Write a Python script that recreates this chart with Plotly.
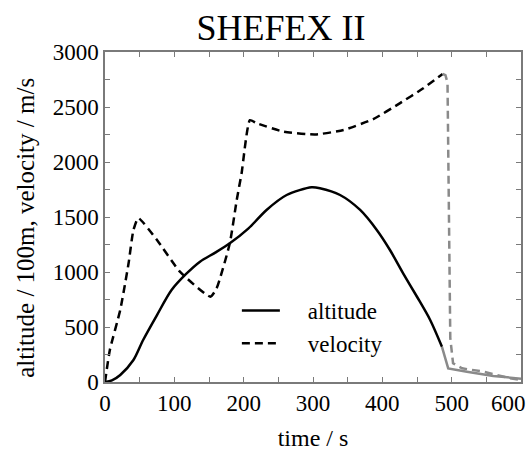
import plotly.graph_objects as go

# Altitude (in units of 100 m) - flight (black) and descent after t~486 s (gray)
alt_time = [0, 10, 22, 41, 55, 75, 96, 117, 137, 159, 180, 207, 233, 262, 298, 310, 339, 368, 392, 411, 430, 450, 469, 486]
alt_vals = [0, 15, 64, 200, 382, 609, 836, 982, 1094, 1176, 1261, 1397, 1564, 1700, 1770, 1761, 1700, 1564, 1382, 1200, 988, 775, 564, 320]
alt_tail_time = [486, 495, 522, 560, 600]
alt_tail_vals = [320, 124, 94, 55, 30]

# Velocity (m/s)
vel_time = [0, 7, 22, 34, 41, 48, 75, 108, 152, 161, 180, 190, 197, 209, 219, 257, 303, 344, 387, 425, 459, 487]
vel_vals = [0, 291, 655, 1079, 1382, 1490, 1291, 1003, 776, 852, 1261, 1655, 1897, 2380, 2352, 2276, 2250, 2291, 2390, 2533, 2670, 2800]
vel_tail_time = [487, 491, 494, 496, 498, 502, 515, 546, 584, 600]
vel_tail_vals = [2800, 2790, 2720, 1500, 400, 170, 124, 94, 34, 18]

x_ticks = [0, 100, 200, 300, 400, 500, 600]
x_ticktext = ["0", "100", "200", "300", "400", "500", ""]
y_ticks = [0, 500, 1000, 1500, 2000, 2500, 3000]

FONT = "Liberation Serif, Times New Roman, serif"
GRAY = "#8a8a8a"
AXIS = "#7a7a7a"
PAD = "\u00a0\u00a0\u00a0\u00a0"

fig = go.Figure()
fig.add_trace(go.Scatter(x=alt_time, y=alt_vals, mode="lines", name=PAD + "altitude",
                         line=dict(color="black", width=2.5, shape="spline", smoothing=0.8)))
fig.add_trace(go.Scatter(x=vel_time, y=vel_vals, mode="lines", name=PAD + "velocity",
                         line=dict(color="black", width=2.5, dash="8px,5px", shape="spline", smoothing=0.5)))
fig.add_trace(go.Scatter(x=alt_tail_time, y=alt_tail_vals, mode="lines", showlegend=False,
                         line=dict(color=GRAY, width=2.5)))
fig.add_trace(go.Scatter(x=vel_tail_time, y=vel_tail_vals, mode="lines", showlegend=False,
                         line=dict(color=GRAY, width=2.5, dash="8px,5px")))

fig.update_layout(
    width=529, height=455,
    margin=dict(l=105, r=8, t=52, b=73),
    paper_bgcolor="white", plot_bgcolor="white",
    font=dict(family=FONT, size=23, color="black"),
    title=dict(text="SHEFEX II", font=dict(family=FONT, size=36, color="black"),
               x=281/529, xanchor="center", xref="container",
               y=1-27/455, yanchor="middle", yref="container"),
    legend=dict(x=0.317, y=0.282, xanchor="left", yanchor="top",
                bgcolor="rgba(0,0,0,0)", borderwidth=0, itemwidth=38,
                font=dict(family=FONT, size=23, color="black"), tracegroupgap=0),
    showlegend=True,
    annotations=[
        dict(text="600", x=600, y=0, xref="x", yref="paper",
             xanchor="center", yanchor="top", xshift=-13, yshift=-7,
             showarrow=False, font=dict(family=FONT, size=23, color="black")),
        dict(text="altitude / 100m, velocity / m/s", x=-0.19, y=0.467,
             xref="paper", yref="paper", xanchor="center", yanchor="middle",
             textangle=-90, showarrow=False, font=dict(family=FONT, size=25, color="black")),
    ],
)
fig.update_xaxes(range=[0, 600], tickvals=x_ticks, ticktext=x_ticktext,
                 ticks="inside", ticklen=5, tickcolor=AXIS, tickwidth=1,
                 minor=dict(dtick=50, ticks="inside", ticklen=5, tickcolor=AXIS, tickwidth=1),
                 showline=True, linecolor=AXIS, linewidth=1.5, mirror="allticks",
                 showgrid=False, zeroline=False, automargin=False,
                 tickfont=dict(family=FONT, size=23, color="black"),
                 title=dict(text="time / s", standoff=14, font=dict(family=FONT, size=24, color="black")))
fig.update_yaxes(range=[0, 3000], tickvals=y_ticks,
                 ticks="inside", ticklen=5, tickcolor=AXIS, tickwidth=1,
                 minor=dict(dtick=250, ticks="inside", ticklen=5, tickcolor=AXIS, tickwidth=1),
                 showline=True, linecolor=AXIS, linewidth=1.5, mirror="allticks",
                 showgrid=False, zeroline=False, automargin=False,
                 tickfont=dict(family=FONT, size=23, color="black"))

fig.write_html("out.html", config={"displayModeBar": False},
               post_script="document.body.style.margin='0';")
